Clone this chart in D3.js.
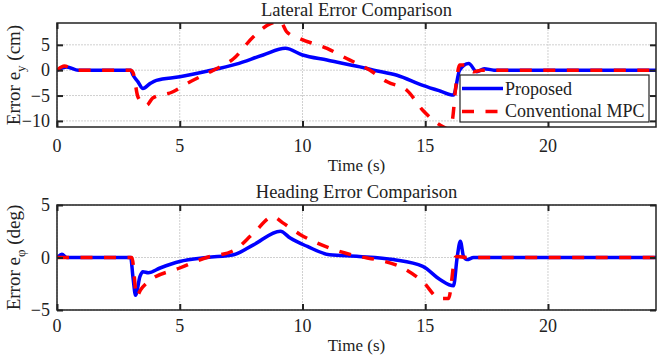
<!DOCTYPE html>
<html>
<head>
<meta charset="utf-8">
<script src="https://cdn.jsdelivr.net/npm/d3@7"></script>
<style>
  body { margin: 0; background: #fff; }
  svg { font-family: "Liberation Serif", "Times New Roman", serif; }
</style>
</head>
<body>
<div id="chart"></div>
<script>
// lateral error (cm)
var latTimeProp = [0, 0.4, 0.87, 3.0, 3.1, 3.3, 3.5, 3.8, 4.05, 5, 6.1, 7.3, 8.4, 9.3, 10.0, 11.0, 12.34, 12.9, 13.85, 14.9, 15.6, 16.15, 16.4, 16.77, 17.1, 17.4, 17.8, 24.4];
var latProposed = [0, 0.65, 0, 0, -1, -2.3, -3.6, -2.6, -2.0, -1.3, -0.2, 1.2, 3.0, 4.3, 3.0, 2.0, 0.65, 0, -1, -3, -4.1, -4.9, 0, 1.3, -0.3, 0.3, 0, 0];
var latTimeConv = [0, 0.3, 0.8, 3.0, 3.1, 3.3, 3.65, 3.9, 4.7, 5.3, 6.37, 7.2, 8.0, 8.7, 9.1, 9.35, 9.9, 11.0, 11.8, 12.75, 13.45, 14.26, 14.9, 15.75, 15.95, 16.1, 16.25, 16.4, 16.7, 16.97, 17.3, 24.4];
var latConventional = [0, 0.8, 0, 0, -0.5, -5.3, -6.9, -5.5, -4.3, -2.6, 0, 2.3, 6.6, 9.2, 9.6, 7.6, 6.2, 4.3, 2.3, 0, -2.3, -4, -7.9, -11.2, -11.6, -10, -3, 1, 1.0, -0.3, 0, 0];

// heading error (deg)
var headTimeProp = [0, 0.2, 0.4, 3.0, 3.1, 3.2, 3.38, 3.5, 3.72, 4.2, 5, 6.1, 7.2, 8.0, 9.1, 9.5, 10.2, 11.1, 12.3, 13.7, 14.9, 15.6, 16.15, 16.3, 16.43, 16.56, 16.7, 16.97, 24.4];
var headProposed = [0, 0.3, 0, 0, -2, -3.6, -1.8, -1.35, -1.45, -1.0, -0.38, 0, 0.26, 1.2, 2.5, 1.85, 1.05, 0.26, 0.1, -0.2, -0.85, -2.1, -2.7, 0, 1.55, 0.1, -0.2, 0, 0];
var headTimeConv = [0, 3.05, 3.25, 3.4, 3.72, 5, 6.1, 7.2, 8.0, 8.8, 9.2, 9.9, 11.1, 12.3, 13.0, 14.0, 14.9, 15.6, 15.95, 16.22, 16.3, 16.7, 24.4];
var headConventional = [0, 0, -3.7, -3.1, -2.3, -1.0, 0, 0.67, 2.3, 3.9, 3.3, 2.2, 0.9, 0.1, -0.2, -0.9, -2.3, -3.9, -3.9, 0, 0.1, 0, 0];

var xTicks = [0, 5, 10, 15, 20];
var latTicks = [-10, -5, 0, 5];
var headTicks = [-5, 0, 5];
var seriesNames = ['Proposed', 'Conventional MPC'];

var width = 657, height = 361;
var left = 57, right = 656;
var dash = '12,11.5';
var ink = '#222';

var svg = d3.select('#chart').append('svg')
    .attr('width', width)
    .attr('height', height);

var x = d3.scaleLinear().domain([0, 24.4]).range([left, right]);

function zip(t, v) {
  return t.map(function(d, i) { return [d, v[i]]; });
}

function drawPanel(opts) {
  var y = d3.scaleLinear().domain(opts.yDomain).range([opts.bottom, opts.top]);
  var g = svg.append('g');
  var id = 'clip' + opts.top;

  g.append('clipPath').attr('id', id)
    .append('rect')
    .attr('x', left).attr('y', opts.top)
    .attr('width', right - left).attr('height', opts.bottom - opts.top);

  // grid
  g.selectAll('.gx').data(xTicks).enter().append('line')
    .attr('x1', function(d) { return x(d); }).attr('x2', function(d) { return x(d); })
    .attr('y1', opts.top).attr('y2', opts.bottom)
    .attr('stroke', '#d0d0d0').attr('stroke-width', 1).attr('stroke-dasharray', '2,1');
  g.selectAll('.gy').data(opts.yTicks).enter().append('line')
    .attr('x1', left).attr('x2', right)
    .attr('y1', function(d) { return y(d); }).attr('y2', function(d) { return y(d); })
    .attr('stroke', '#d0d0d0').attr('stroke-width', 1).attr('stroke-dasharray', '2,1');

  // lines
  var line = d3.line()
    .x(function(d) { return x(d[0]); })
    .y(function(d) { return y(d[1]); })
    .curve(d3.curveMonotoneX);

  var plot = g.append('g').attr('clip-path', 'url(#' + id + ')');
  plot.append('path').datum(zip(opts.tProp, opts.prop))
    .attr('d', line).attr('fill', 'none')
    .attr('stroke', '#0000ff').attr('stroke-width', 3.5);
  plot.append('path').datum(zip(opts.tConv, opts.conv))
    .attr('d', line).attr('fill', 'none')
    .attr('stroke', '#ff0000').attr('stroke-width', 3.5)
    .attr('stroke-dasharray', dash);

  // axes, ticks pointing inward
  g.append('g').attr('transform', 'translate(0,' + opts.bottom + ')')
    .call(d3.axisBottom(x).tickValues(xTicks).tickSizeInner(-6).tickSizeOuter(0).tickFormat(''));
  g.append('g').attr('transform', 'translate(0,' + opts.top + ')')
    .call(d3.axisTop(x).tickValues(xTicks).tickSizeInner(-6).tickSizeOuter(0).tickFormat(''));
  g.append('g').attr('transform', 'translate(' + left + ',0)')
    .call(d3.axisLeft(y).tickValues(opts.yTicks).tickSizeInner(-6).tickSizeOuter(0).tickPadding(7));
  g.append('g').attr('transform', 'translate(' + right + ',0)')
    .call(d3.axisRight(y).tickValues(opts.yTicks).tickSizeInner(-6).tickSizeOuter(0).tickFormat(''));

  g.selectAll('.domain').remove();
  g.selectAll('.tick line').attr('stroke', ink).attr('stroke-width', 2);
  g.selectAll('.tick text').attr('font-size', 18).attr('fill', ink)
    .attr('font-family', '"Liberation Serif", serif');

  // x tick labels placed on their own baseline
  g.selectAll('.xl').data(xTicks).enter().append('text')
    .attr('x', function(d) { return x(d); }).attr('y', opts.xLabelY)
    .attr('text-anchor', 'middle').attr('font-size', 18).attr('fill', ink)
    .text(function(d) { return d; });

  g.append('rect')
    .attr('x', left).attr('y', opts.top)
    .attr('width', right - left).attr('height', opts.bottom - opts.top)
    .attr('fill', 'none').attr('stroke', ink).attr('stroke-width', 1.5);

  // title
  g.append('text')
    .attr('x', (left + right) / 2).attr('y', opts.top - 7)
    .attr('text-anchor', 'middle').attr('font-size', 18.5).attr('fill', ink)
    .text(opts.title);

  // x label
  g.append('text')
    .attr('x', (left + right) / 2).attr('y', opts.xLabelY + 19)
    .attr('text-anchor', 'middle').attr('font-size', 17).attr('fill', ink)
    .text('Time (s)');

  // y label
  var yl = g.append('text')
    .attr('transform', 'translate(20,' + ((opts.top + opts.bottom) / 2) + ') rotate(-90)')
    .attr('text-anchor', 'middle').attr('font-size', 19).attr('fill', ink);
  yl.append('tspan').text('Error  e');
  yl.append('tspan').attr('dy', 5).attr('font-size', 13).text(opts.sub);
  yl.append('tspan').attr('dy', -5).text(' (' + opts.unit + ')');

  return y;
}

drawPanel({
  top: 23, bottom: 127, yDomain: [-11.2, 9.3], yTicks: latTicks, xLabelY: 152,
  tProp: latTimeProp, prop: latProposed, tConv: latTimeConv, conv: latConventional,
  title: 'Lateral Error Comparison', sub: 'y', unit: 'cm'
});

drawPanel({
  top: 205, bottom: 310, yDomain: [-5, 5], yTicks: headTicks, xLabelY: 332,
  tProp: headTimeProp, prop: headProposed, tConv: headTimeConv, conv: headConventional,
  title: 'Heading Error Comparison', sub: '\u03c6', unit: 'deg'
});

// legend
var lg = svg.append('g').attr('transform', 'translate(460,75)');
lg.append('rect').attr('width', 189).attr('height', 47)
  .attr('fill', '#fff').attr('stroke', ink).attr('stroke-width', 1.2);
lg.selectAll('line.leg').data(seriesNames).enter().append('line')
  .attr('x1', 2).attr('x2', 43)
  .attr('y1', function(d, i) { return 13.5 + i * 23; })
  .attr('y2', function(d, i) { return 13.5 + i * 23; })
  .attr('stroke', function(d, i) { return i ? '#ff0000' : '#0000ff'; })
  .attr('stroke-width', 3.5)
  .attr('stroke-dasharray', function(d, i) { return i ? dash : null; });
lg.selectAll('text').data(seriesNames).enter().append('text')
  .attr('x', 45).attr('y', function(d, i) { return 20 + i * 22; })
  .attr('font-size', 18).attr('fill', ink)
  .text(function(d) { return d; });
</script>
</body>
</html>
